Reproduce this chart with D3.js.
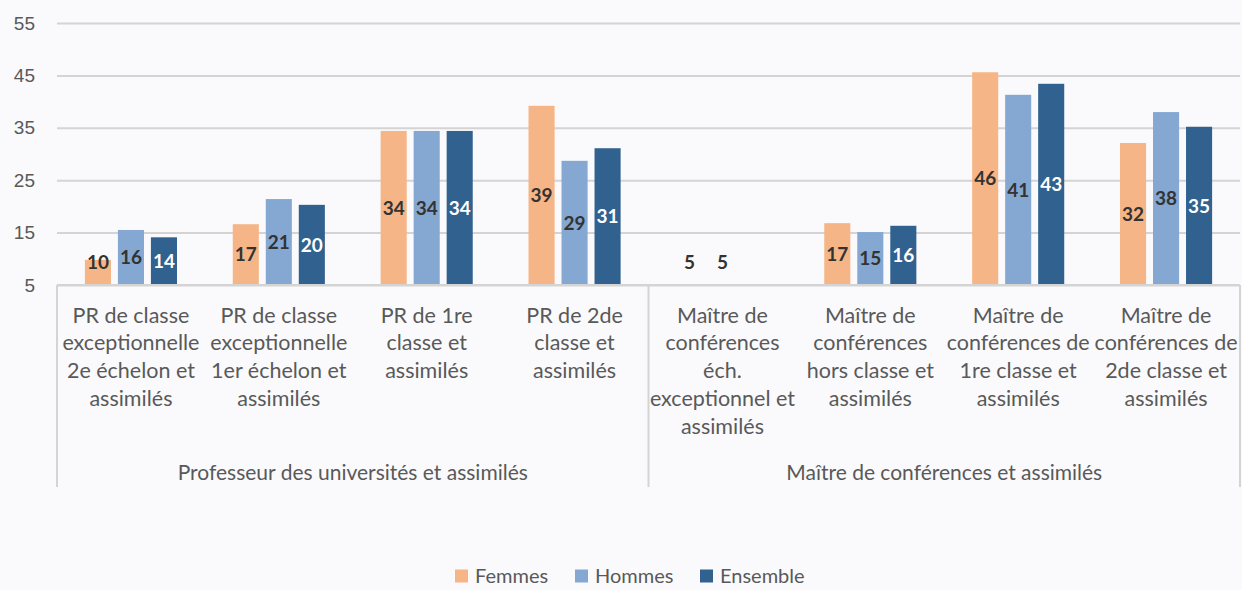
<!DOCTYPE html>
<html>
<head>
<meta charset="utf-8">
<script src="https://cdn.jsdelivr.net/npm/d3@7"></script>
<style>
  html, body { margin: 0; padding: 0; background: #fafafc; }
  svg { display: block; font-family: Lato, "Open Sans", sans-serif; }
</style>
</head>
<body>
<svg id="chart" width="1242" height="590"></svg>
<script>
// catégories (libellés sur plusieurs lignes) et groupes
const categories = [
    ["PR de classe", "exceptionnelle", "2e échelon et", "assimilés"],
    ["PR de classe", "exceptionnelle", "1er échelon et", "assimilés"],
    ["PR de 1re", "classe et", "assimilés"],
    ["PR de 2de", "classe et", "assimilés"],
    ["Maître de", "conférences", "éch.", "exceptionnel et", "assimilés"],
    ["Maître de", "conférences", "hors classe et", "assimilés"],
    ["Maître de", "conférences de", "1re classe et", "assimilés"],
    ["Maître de", "conférences de", "2de classe et", "assimilés"]
];
const groups = ["Professeur des universités et assimilés", "Maître de conférences et assimilés"];
const groupSize = [4, 4];

const series = ["Femmes", "Hommes", "Ensemble"];
const femmes   = [9.8, 16.6, 34.4, 39.2, 5, 16.8, 45.6, 32.1];
const hommes   = [15.5, 21.4, 34.4, 28.7, 5, 15.1, 41.3, 38.0];
const ensemble = [14.1, 20.3, 34.4, 31.1, null, 16.3, 43.4, 35.2];
const yTicks = [5, 15, 25, 35, 45, 55];

const colors = {Femmes: "#f5b586", Hommes: "#84a8d1", Ensemble: "#30618f"};
const labelColors = {Femmes: "#333333", Hommes: "#333333", Ensemble: "#ffffff"};

const svg = d3.select("#chart");
const plotLeft = 57, plotRight = 1240, plotTop = 23, plotBottom = 285;

const y = d3.scaleLinear().domain([5, 55]).range([plotBottom, plotTop]);
const x0 = d3.scaleBand().domain(d3.range(categories.length)).range([plotLeft, plotRight]).padding(0);
const x1 = d3.scaleBand().domain(series).range([0, x0.bandwidth()])
    .paddingInner(0.21).paddingOuter(0.845);

// grille + graduations
const yAxis = d3.axisLeft(y).tickValues(yTicks).tickSize(-(plotRight - plotLeft)).tickPadding(22);
const gy = svg.append("g").attr("transform", `translate(${plotLeft},0)`).call(yAxis);
gy.select(".domain").remove();
gy.selectAll(".tick line").attr("stroke", "#d4d4d4").attr("stroke-width", 2);
gy.selectAll(".tick text").attr("fill", "#595959").style("font-size", "19px");

// barres
const rows = series.map(s => {
    const vals = s === "Femmes" ? femmes : s === "Hommes" ? hommes : ensemble;
    return vals.map((v, i) => ({s, i, v}));
});
const data = rows.flat().filter(d => d.v !== null);

svg.append("g").selectAll("rect")
    .data(data)
    .enter()
    .append("rect")
    .attr("x", d => x0(d.i) + x1(d.s))
    .attr("width", x1.bandwidth())
    .attr("y", d => y(d.v))
    .attr("height", d => y(5) - y(d.v))
    .attr("fill", d => colors[d.s]);

svg.append("g").selectAll("text")
    .data(data)
    .enter()
    .append("text")
    .attr("x", d => x0(d.i) + x1(d.s) + x1.bandwidth() / 2)
    .attr("y", d => Math.min((y(d.v) + y(5)) / 2, y(5) - 23))
    .attr("dy", "0.36em")
    .attr("text-anchor", "middle")
    .attr("fill", d => labelColors[d.s])
    .style("font-size", "19px")
    .style("font-weight", "bold")
    .text(d => d3.format(".0f")(d.v));

// axe des catégories
svg.append("line")
    .attr("x1", plotLeft).attr("x2", plotRight)
    .attr("y1", plotBottom).attr("y2", plotBottom)
    .attr("stroke", "#d4d4d4").attr("stroke-width", 2);

const sepIdx = [0];
groupSize.forEach(n => sepIdx.push(sepIdx[sepIdx.length - 1] + n));
sepIdx.forEach(k => {
    const xx = k < categories.length ? x0(k) : plotRight;
    svg.append("line")
        .attr("x1", xx).attr("x2", xx)
        .attr("y1", plotBottom).attr("y2", 487)
        .attr("stroke", "#d4d4d4").attr("stroke-width", 2);
});

const catLabels = svg.append("g").selectAll("text")
    .data(categories)
    .enter()
    .append("text")
    .attr("text-anchor", "middle")
    .attr("fill", "#595959")
    .style("font-size", "21.5px");
catLabels.each(function(lines, i) {
    lines.forEach((line, j) => {
        d3.select(this).append("tspan")
            .attr("x", x0(i) + x0.bandwidth() / 2)
            .attr("y", 315 + j * 27.7)
            .attr("dy", "0.36em")
            .text(line);
    });
});

svg.append("g").selectAll("text")
    .data(groups)
    .enter()
    .append("text")
    .attr("x", (d, i) => {
        const a = x0(sepIdx[i]);
        const b = sepIdx[i + 1] < categories.length ? x0(sepIdx[i + 1]) : plotRight;
        return (a + b) / 2;
    })
    .attr("y", 472)
    .attr("dy", "0.36em")
    .attr("text-anchor", "middle")
    .attr("fill", "#595959")
    .style("font-size", "21px")
    .text(d => d);

// légende
const legendX = [455, 575, 700];
const legend = svg.append("g").selectAll("g")
    .data(series)
    .enter()
    .append("g")
    .attr("transform", (d, i) => `translate(${legendX[i]},576)`);
legend.append("rect")
    .attr("x", 0).attr("y", -6.5)
    .attr("width", 13).attr("height", 13)
    .attr("fill", d => colors[d]);
legend.append("text")
    .attr("x", 20)
    .attr("dy", "0.36em")
    .attr("fill", "#595959")
    .style("font-size", "20px")
    .text(d => d);
</script>
</body>
</html>
